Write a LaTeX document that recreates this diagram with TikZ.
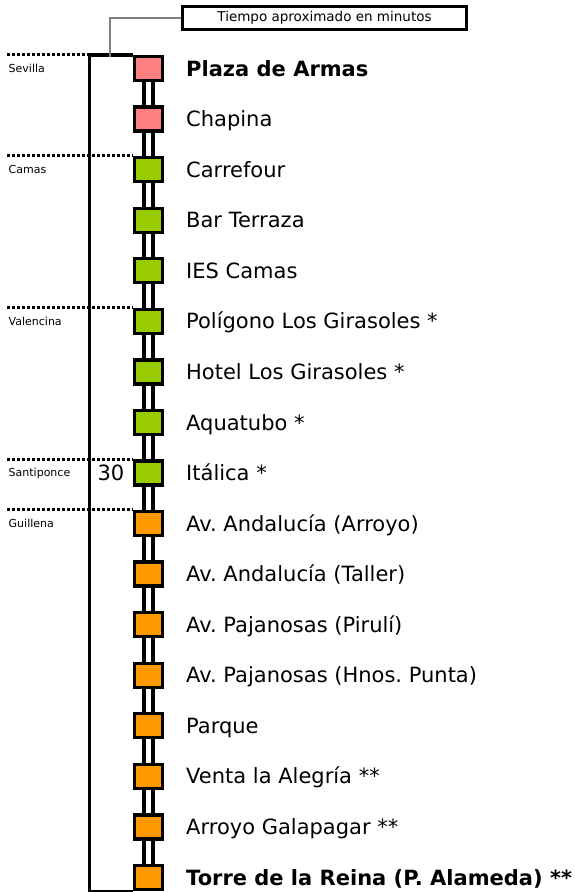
\documentclass[tikz,border=0pt]{standalone}
\usepackage{fontspec}
\setmainfont{DejaVu Sans}
\frenchspacing
\definecolor{cpink}{HTML}{FF8080}
\definecolor{cgreen}{HTML}{99CC00}
\definecolor{corange}{HTML}{FF9900}
\begin{document}
\frenchspacing
\begin{tikzpicture}[x=1pt,y=-1pt,
  sq/.style={draw=black, line width=3.3pt, minimum width=28pt, minimum height=24pt, inner sep=0pt},
  lab/.style={anchor=base west, inner sep=0pt, font=\fontsize{21}{25}\selectfont},
  reg/.style={anchor=west, inner sep=0pt, font=\fontsize{11}{13}\selectfont},
  rail/.style={line width=3.3pt},
  dotline/.style={line width=3pt, dash pattern=on 3pt off 2pt},
  brk/.style={line width=3.3pt},
  titlebox/.style={draw=black, line width=3.3pt, minimum width=284pt, minimum height=23pt, inner sep=0pt, font=\fontsize{13.5}{16}\selectfont}]
\useasboundingbox (0,0) rectangle (575,892);
\foreach \i/\name in {
  0/{\textbf{Plaza de Armas}},
  1/{Chapina},
  2/{Carrefour},
  3/{Bar Terraza},
  4/{IES Camas},
  5/{Polígono Los Girasoles *},
  6/{Hotel Los Girasoles *},
  7/{Aquatubo *},
  8/{Itálica *},
  9/{Av. Andalucía (Arroyo)},
  10/{Av. Andalucía (Taller)},
  11/{Av. Pajanosas (Pirulí)},
  12/{Av. Pajanosas (Hnos. Punta)},
  13/{Parque},
  14/{Venta la Alegría **},
  15/{Arroyo Galapagar **},
  16/{\textbf{Torre de la Reina (P. Alameda) **}}}{
  \pgfmathsetmacro{\cy}{68.5+\i*50.5625}
  \coordinate (c\i) at (148.5,\cy);
  \node[lab] (l\i) at (186,\cy+7.6) {\name};
}
% rails
\foreach \i [evaluate=\i as \j using int(\i+1)] in {0,...,15}{
  \draw[rail] ([xshift=-4.6pt]c\i) -- ([xshift=-4.6pt]c\j);
  \draw[rail] ([xshift=4.6pt]c\i) -- ([xshift=4.6pt]c\j);
}
% squares
\foreach \i/\col in {0/cpink,1/cpink,2/cgreen,3/cgreen,4/cgreen,5/cgreen,6/cgreen,7/cgreen,8/cgreen,9/corange,10/corange,11/corange,12/corange,13/corange,14/corange,15/corange,16/corange}{
  \node[sq, fill=\col] (s\i) at (c\i) {};
}
% region dotted lines and labels
\coordinate (dx) at (7,0);
\coordinate (bx) at (89.5,0);
\foreach \i/\reg in {0/Sevilla,2/Camas,5/Valencina,8/Santiponce,9/Guillena}{
  \draw[dotline] (dx |- s\i.north) -- (s\i.north west);
  \node[reg] (r\i) at (8.5,0 |- c\i) {\reg};
}
% bracket
\draw[brk] (s0.north west) -- (bx |- s0.north) -- (bx |- s16.south) -- (s16.south west);
% title box and gray connector
\node[titlebox] (tb) at (324.5,18) {Tiempo aproximado en minutos};
\coordinate (g0) at (110,56.5);
\draw[gray, line width=1.5pt] (g0) |- (tb.west);
% time
\node[anchor=base east, inner sep=0pt, font=\fontsize{21}{25}\selectfont] (t30) at (124.5,480.6) {30};
\end{tikzpicture}
\end{document}
